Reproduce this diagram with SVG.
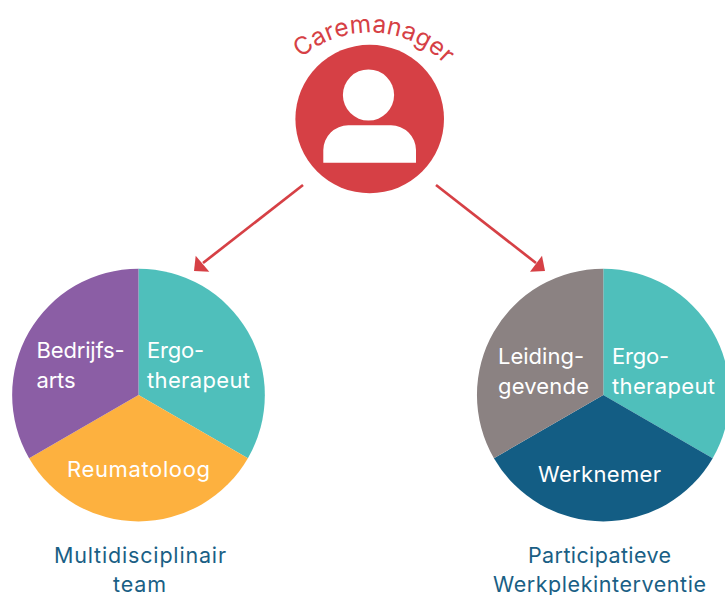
<svg xmlns="http://www.w3.org/2000/svg" width="725" height="595" viewBox="0 0 725 595">
<style>
text{font-family:"Inter","Liberation Sans",sans-serif}
.w{fill:#fff;font-size:22px}
.b{fill:#1a5f85;font-size:21.5px}
.c{fill:#d64045;font-size:24.5px;letter-spacing:0.15px}
.l{stroke:#d64045;stroke-width:2.7;fill:none}
.h{fill:#d64045}
</style>
<defs><path id="arc" d="M301 58A105 105 0 0 1 450 70"/></defs>
<rect width="725" height="595" fill="#fff"/>
<g id="caremanager">
<circle cx="369.700" cy="119" r="74.300" fill="#d64045"/>
<circle cx="368.500" cy="95" r="25.600" fill="#fff"/>
<path d="M323.300 162.800V150A25 25 0 0 1 348.300 125.300H391A25 25 0 0 1 416 150V162.800Z" fill="#fff"/>
<text class="c"><textPath href="#arc">Caremanager</textPath></text>
</g>
<g id="connectors">
<path class="l" d="M303 185L203 263"/>
<path class="h" d="M194 271L195.700 255.700L209.300 271.700Z"/>
<path class="l" d="M436 185L536 263"/>
<path class="h" d="M545 271L542 255.700L530 271.700Z"/>
</g>
<g id="multidisciplinair-team">
<path d="M138.500 395V268.700A126.300 126.300 0 0 1 247.900 458.200Z" fill="#4fbfbb"/>
<path d="M138.500 395L247.900 458.200A126.300 126.300 0 0 1 29.100 458.200Z" fill="#fdb13f"/>
<path d="M138.500 395L29.100 458.200A126.300 126.300 0 0 1 138.500 268.700Z" fill="#8b5ea5"/>
<text class="w" x="36.500" y="358" textLength="88">Bedrijfs-</text>
<text class="w" x="36.500" y="388" textLength="39">arts</text>
<text class="w" x="147" y="358" textLength="57">Ergo-</text>
<text class="w" x="147" y="388" textLength="103">therapeut</text>
<text class="w" x="67" y="476.500" textLength="143">Reumatoloog</text>
<text class="b" x="54" y="563" textLength="172">Multidisciplinair</text>
<text class="b" x="113" y="591.500" textLength="53">team</text>
</g>
<g id="participatieve-werkplekinterventie">
<path d="M603.300 395V268.700A126.300 126.300 0 0 1 712.700 458.200Z" fill="#4fbfbb"/>
<path d="M603.300 395L712.700 458.200A126.300 126.300 0 0 1 493.900 458.200Z" fill="#135d84"/>
<path d="M603.300 395L493.900 458.200A126.300 126.300 0 0 1 603.300 268.700Z" fill="#8b8282"/>
<text class="w" x="498" y="364" textLength="86">Leiding-</text>
<text class="w" x="498" y="393.500" textLength="91">gevende</text>
<text class="w" x="612" y="364" textLength="57">Ergo-</text>
<text class="w" x="612" y="393.500" textLength="103">therapeut</text>
<text class="w" x="538" y="481.500" textLength="123">Werknemer</text>
<text class="b" x="528" y="563" textLength="143">Participatieve</text>
<text class="b" x="493" y="591.500" textLength="213">Werkplekinterventie</text>
</g>
</svg>
